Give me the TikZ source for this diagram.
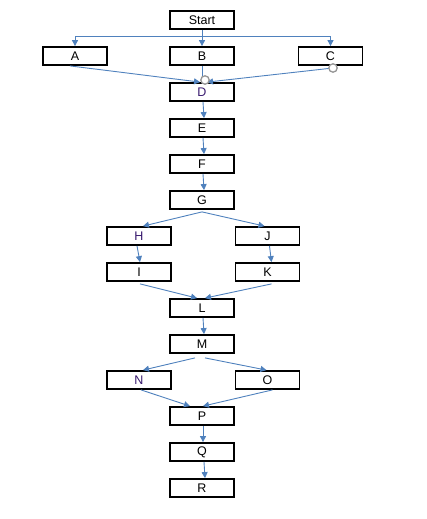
\documentclass[tikz,border=0pt]{standalone}
\usepackage{fontspec}
\setmainfont{Liberation Sans}
\usetikzlibrary{arrows.meta,positioning,calc}
\definecolor{linkblue}{RGB}{79,129,189}
\definecolor{inkpurple}{RGB}{55,25,110}
\definecolor{pingray}{RGB}{150,150,150}
\begin{document}
\begin{tikzpicture}[
  x=1pt, y=-1pt,
  box/.style={draw, line width=1.8pt, minimum width=64pt, minimum height=18pt, inner sep=0pt,
    font=\fontsize{12.5}{14}\selectfont},
  conn/.style={draw=linkblue, line width=0.9pt, -{Triangle[length=6pt,width=6pt]}, linkblue},
  plain/.style={draw=linkblue, line width=0.9pt},
  pin/.style={draw=pingray, line width=1.3pt, fill=white},
]
\useasboundingbox (0,0) rectangle (427,519);

% top row
\node[box] (start) at (202,20) {Start};
\node[box] (A) at (75,56) {A};
\node[box] (B) at (202,56) {B};
\node[box] (C) at (330.5,56) {C};

% main column
\node[box, text=inkpurple] (D) at (202,92) {D};
\node[box] (E) at (202,128) {E};
\node[box] (F) at (202,164) {F};
\node[box] (G) at (202,200) {G};

% first split
\node[box, text=inkpurple] (H) at (139,236) {H};
\node[box] (J) at (267.5,236) {J};
\node[box] (I) at (139,272) {I};
\node[box] (K) at (267.5,272) {K};

\node[box] (L) at (202,308) {L};
\node[box] (M) at (202,344) {M};

% second split
\node[box, text=inkpurple] (N) at (139,380) {N};
\node[box] (O) at (267.5,380) {O};

\node[box] (P) at (202,416) {P};
\node[box] (Q) at (202,452) {Q};
\node[box] (R) at (202,488) {R};

% connectors
\coordinate (bus) at (202,36);
\draw[plain] (start.south) -- (bus);
\draw[conn] (bus) -| (A.north);
\draw[conn] (bus) -- (B.north);
\draw[conn] (bus) -| (C.north);

\coordinate (Dpin) at (205,80);
\coordinate (Cpin) at (333,68);
\draw[conn] ([xshift=-5pt]A.south) -- ([xshift=-2pt]D.north);
\draw[plain] (B.south) -- ($(Dpin)+(-3,-4)$);
\draw[conn] (Cpin) -- ([xshift=5pt]D.north);
\draw[pin] (Dpin) circle (4.2pt);
\draw[pin] (Cpin) circle (4.2pt);

\draw[conn] ([xshift=1pt]D.south) -- ([xshift=2pt]E.north);
\draw[conn] ([xshift=1pt]E.south) -- ([xshift=2pt]F.north);
\draw[conn] ([xshift=1pt]F.south) -- ([xshift=2pt]G.north);

\draw[conn] ([yshift=-2pt]G.south) -- ([xshift=4pt]H.north);
\draw[conn] ([yshift=-2pt]G.south) -- ([xshift=-3pt]J.north);
\draw[conn] ([xshift=-2pt]H.south) -- ([xshift=1pt]I.north);
\draw[conn] ([xshift=2pt]J.south) -- ([xshift=4pt]K.north);
\draw[conn] ([xshift=1pt,yshift=-2pt]I.south) -- ([xshift=-5pt]L.north);
\draw[conn] ([xshift=4pt,yshift=-2pt]K.south) -- ([xshift=3pt]L.north);

\draw[conn] ([xshift=1pt]L.south) -- ([xshift=2pt]M.north);
\draw[conn] ([xshift=-7pt,yshift=-4pt]M.south) -- ([xshift=4pt]N.north);
\draw[conn] ([xshift=3pt,yshift=-4pt]M.south) -- ([xshift=-1pt]O.north);
\draw[conn] ([xshift=2pt]N.south) -- ([xshift=-12pt]P.north);
\draw[conn] ([xshift=5pt]O.south) -- ([xshift=1pt]P.north);
\draw[conn] ([xshift=1pt]P.south) -- ([xshift=1pt]Q.north);
\draw[conn] ([xshift=2pt]Q.south) -- ([xshift=3pt]R.north);

\end{tikzpicture}
\end{document}
